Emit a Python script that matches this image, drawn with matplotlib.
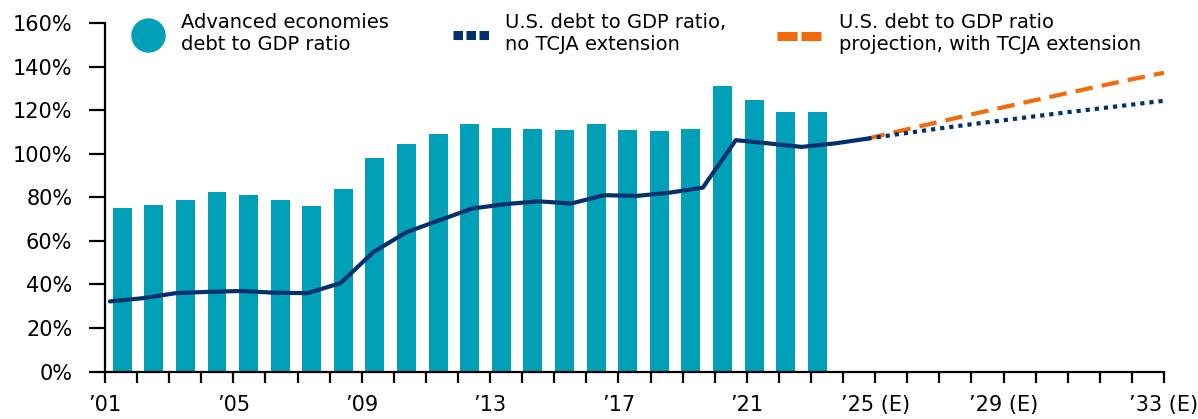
import numpy as np
import matplotlib.pyplot as plt
from matplotlib.lines import Line2D
from matplotlib.patches import Ellipse

# data
bar_years = list(range(2001, 2024))
adv_debt = [75.0, 76.4, 78.7, 82.4, 81.0, 78.7, 75.9, 83.7, 98.0,
            104.5, 109.1, 113.7, 111.8, 111.4, 110.9, 113.7, 110.9, 110.4, 111.4,
            131.2, 124.7, 119.2, 119.2]

us_years = list(range(2001, 2025))
us_debt = [32.2, 33.7, 36.0, 36.6, 37.0, 36.2, 36.0, 40.6, 54.9,
           64.0, 69.5, 74.9, 76.9, 78.2, 77.2, 81.0, 80.7, 82.2, 84.5,
           106.3, 104.8, 103.2, 104.8, 107.0]

proj_years = list(range(2024, 2034))
proj_no_tcja = [107.0, 109.2, 111.3, 113.3, 115.2, 117.1, 119.0, 120.8, 122.6, 124.4]
proj_tcja = [107.0, 110.6, 114.1, 117.6, 121.0, 124.4, 127.7, 131.0, 134.2, 137.3]

tick_labels = {0: "\u201901", 4: "\u201905", 8: "\u201909", 12: "\u201913", 16: "\u201917",
               20: "\u201921", 24: "\u201925 (E)", 28: "\u201929 (E)", 33: "\u201933 (E)"}
y_ticks = [0, 20, 40, 60, 80, 100, 120, 140, 160]

TEAL = "#00A0B8"
NAVY = "#00316E"
ORANGE = "#F26A0C"

plt.rcParams['font.family'] = ['DejaVu Sans']

W, H = 1198, 419
fig = plt.figure(figsize=(W / 100, H / 100), dpi=100)
fig.patch.set_facecolor("white")

x0, x1 = 105, 1164
y0, y1 = 371.5, 23.3
rect = [x0 / W, (H - y0) / H, (x1 - x0) / W, (y0 - y1) / H]

ax = fig.add_axes(rect)
ax.set_ylim(0, 160)
ax.set_xlim(0, 33)

# bars on their own x scale
axb = ax.twiny()
axb.bar(range(len(bar_years)), adv_debt, width=0.6, color=TEAL, zorder=1)
axb.set_xlim(-0.544, 32.97)

# lines on their own x scale (years)
axl = ax.twiny()
axl.plot(us_years, us_debt, color=NAVY, lw=3, solid_capstyle="round", zorder=3)
axl.plot(proj_years, proj_tcja, color=ORANGE, lw=3, dashes=(4.2, 2.2),
         dash_capstyle="butt", zorder=2, clip_on=False)
axl.plot(proj_years, proj_no_tcja, color=NAVY, lw=3, dashes=(1.0, 1.2),
         dash_capstyle="butt", zorder=3, clip_on=False)
axl.set_xlim(2000.85, 2033.0)

for a in (axb, axl):
    a.set_ylim(0, 160)
    a.set_xticks([])
    for s in a.spines.values():
        s.set_visible(False)
    a.patch.set_visible(False)

ax.set_zorder(5)
ax.patch.set_visible(False)
for s in ("top", "right"):
    ax.spines[s].set_visible(False)
for s in ("left", "bottom"):
    ax.spines[s].set_linewidth(1.6)
    ax.spines[s].set_color("black")

ax.set_yticks(y_ticks)
ax.set_yticklabels([f"{v}%" for v in y_ticks])
ax.set_xticks(range(34))
ax.set_xticklabels([tick_labels.get(i, "") for i in range(34)])
ax.tick_params(axis="y", length=11.5, width=1.6, pad=12, labelsize=15, colors="black")
ax.tick_params(axis="x", length=8, width=1.6, pad=9, labelsize=15, colors="black")

# legend drawn by hand along the top
def fx(px):
    return px / W

def fy(py):
    return 1 - py / H

fig.patches.append(Ellipse((fx(148.5), fy(35.5)), 33 / W, 33 / H, color=TEAL,
                           transform=fig.transFigure))
fig.lines.append(Line2D([fx(453), fx(489)], [fy(35.5), fy(35.5)], color=NAVY, lw=6.5,
                        dashes=(1.05, 0.39), dash_capstyle="butt",
                        transform=fig.transFigure))
fig.lines.append(Line2D([fx(777), fx(821)], [fy(36.5), fy(36.5)], color=ORANGE, lw=6.5,
                        dashes=(2.22, 0.44), dash_capstyle="butt",
                        transform=fig.transFigure))

leg_kw = dict(fontsize=14, va="center", ha="left", linespacing=1.2, color="black")
fig.text(fx(181), fy(34), "Advanced economies\ndebt to GDP ratio", **leg_kw)
fig.text(fx(505), fy(34), "U.S. debt to GDP ratio,\nno TCJA extension", **leg_kw)
fig.text(fx(839), fy(34), "U.S. debt to GDP ratio\nprojection, with TCJA extension", **leg_kw)

fig.savefig("out.png", dpi=100)
